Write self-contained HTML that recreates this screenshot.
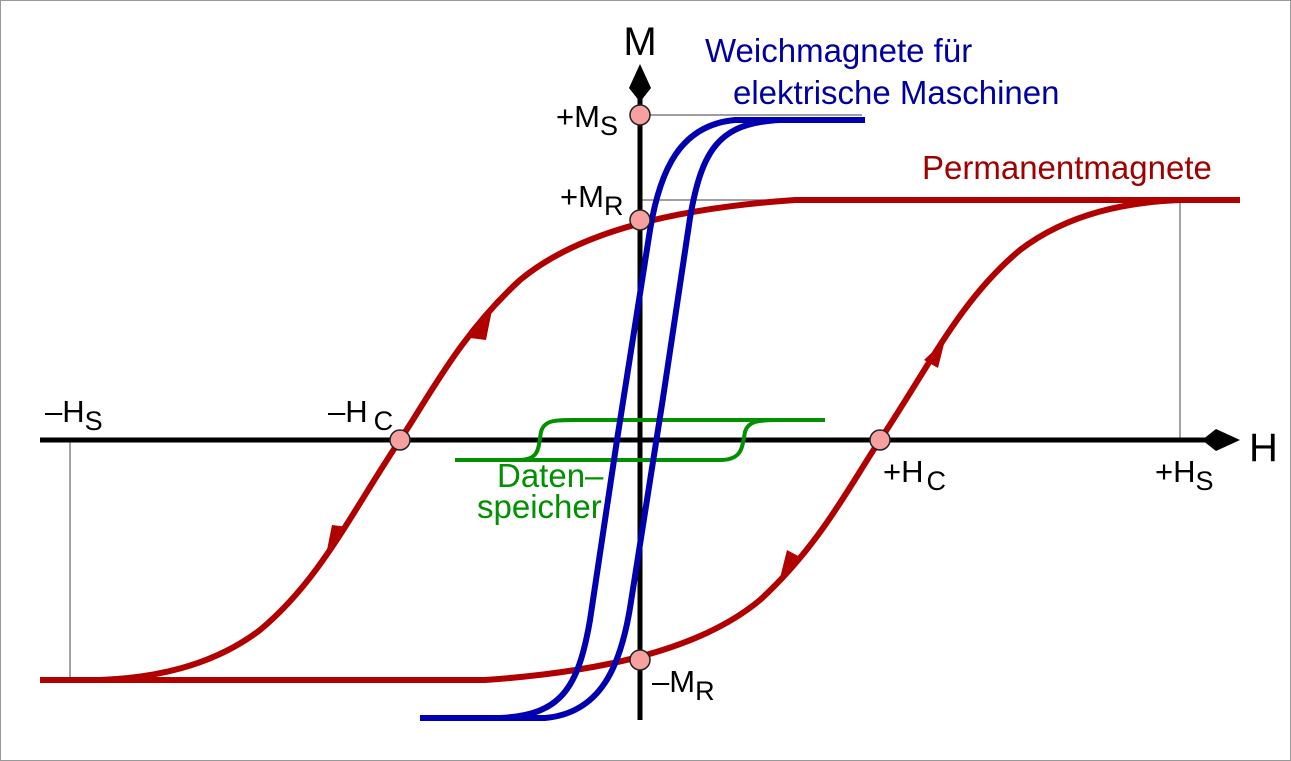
<!DOCTYPE html>
<html><head><meta charset="utf-8"><style>
html,body{margin:0;padding:0;background:#fff}
svg{display:block}
text{font-family:"Liberation Sans",sans-serif}
</style></head><body>
<svg width="1291" height="761" viewBox="0 0 1291 761">
<rect x="0.5" y="0.5" width="1290" height="760" fill="#fff" stroke="#999"/>
<g stroke="#666" stroke-width="1.2" fill="none">
<line x1="640" y1="115" x2="862" y2="115"/>
<line x1="640" y1="200" x2="1180" y2="200"/>
<line x1="1180" y1="200" x2="1180" y2="440"/>
<line x1="70" y1="440" x2="70" y2="680"/>
</g>
<g stroke="#000" stroke-width="5" fill="none">
<line x1="40" y1="440" x2="1212" y2="440"/>
<line x1="640" y1="720" x2="640" y2="92"/>
</g>
<polygon points="640,64 651,88 640,102 629,88" fill="#000"/>
<polygon points="1240,440 1216,451 1202,440 1216,429" fill="#000"/>
<g stroke="#009000" stroke-width="4" fill="none">
<path d="M455,460 L520,460 C540,459 538,448 541,432 C544,420 555,420 575,420 L825,420"/>
<path d="M520,460 L722,460 C742,459 742,448 745,432 C748,421 758,420 780,420"/>
</g>
<g stroke="#b00000" stroke-width="6" fill="none">
<path d="M40,680 L485,680 C600,672 700,650 760,600 C820,545 850,485 880,440 C930,365 960,300 1020,250 C1070,212 1130,202 1180,200 L1240,200"/>
<path d="M1240,200 L795,200 C680,208 580,230 520,280 C460,335 430,395 400,440 C350,515 320,580 260,630 C210,668 150,678 100,680 L40,680"/>
</g>
<g fill="#b00000">
<polygon points="492,310 486,340 470,338"/>
<polygon points="326,555 332,525 348,527"/>
<polygon points="945,340 938,368 924,360"/>
<polygon points="780,578 787,550 800,557"/>
</g>
<g stroke="#0000b0" stroke-width="6" fill="none">
<path d="M865,120 L735,120 C680,125 660,170 650,230 L617,440 L590,620 C578,690 560,715 500,718 L420,718"/>
<path d="M420,718 L545,718 C600,713 620,668 630,608 L663,398 L690,218 C702,148 720,123 780,120 L865,120"/>
</g>
<g fill="#f6a0a0" stroke="#222" stroke-width="1.5">
<circle cx="640" cy="115" r="10"/>
<circle cx="640" cy="220" r="10"/>
<circle cx="400" cy="440" r="10"/>
<circle cx="880" cy="440" r="10"/>
<circle cx="640" cy="660" r="10"/>
</g>
<text x="640" y="55" font-size="40" text-anchor="middle">M</text>
<text x="1249" y="461" font-size="40">H</text>
<g font-size="31" fill="#000">
<text x="556" y="127">+M<tspan font-size="27" dy="8">S</tspan></text>
<text x="560" y="207">+M<tspan font-size="27" dy="8">R</tspan></text>
<text x="652" y="692">–M<tspan font-size="27" dy="8">R</tspan></text>
<text x="45" y="422">–H<tspan font-size="27" dy="8">S</tspan></text>
<text x="328" y="422">–H<tspan font-size="27" dy="8" dx="6">C</tspan></text>
<text x="883" y="482">+H<tspan font-size="27" dy="8" dx="3">C</tspan></text>
<text x="1155" y="482">+H<tspan font-size="27" dy="8">S</tspan></text>
</g>
<g font-size="33" fill="#0000a0">
<text x="705" y="62">Weichmagnete für</text>
<text x="733" y="104">elektrische Maschinen</text>
</g>
<text x="922" y="179" font-size="33" fill="#a00000">Permanentmagnete</text>
<g font-size="33" fill="#009000">
<text x="497" y="487">Daten–</text>
<text x="477" y="518">speicher</text>
</g>
</svg>
</body></html>
